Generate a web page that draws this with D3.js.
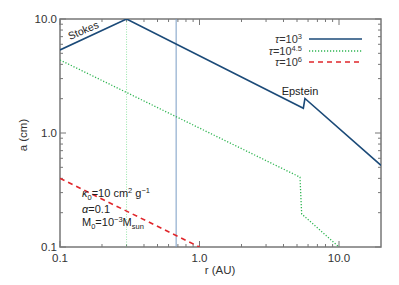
<!DOCTYPE html>
<html><head><meta charset="utf-8">
<script src="https://cdn.jsdelivr.net/npm/d3@7"></script>
<style>body{margin:0;background:#fff}text{font-family:"Liberation Sans",Arial,sans-serif}</style>
</head><body>
<svg id="c" width="399" height="285"></svg>
<script>
const rBlue = [0.1, 0.3, 5.55, 5.7, 20];
const aBlue = [5.35, 10, 1.65, 2.01, 0.52];
const rGreen = [0.1, 5.25, 5.4, 10];
const aGreen = [4.37, 0.41, 0.195, 0.1];
const rRed = [0.1, 1.0];
const aRed = [0.40, 0.1];
const vLines = [0.3, 0.68];
const xTickVals = [0.1, 1, 10];
const xTickLabels = ["0.1", "1.0", "10.0"];
const yTickVals = [0.1, 1, 10];
const yTickLabels = ["0.1", "1.0", "10.0"];

const svg = d3.select("#c");
const L = 60, R = 381, T = 19, B = 247;
const x = d3.scaleLog().domain([0.1, 20]).range([L, R]);
const y = d3.scaleLog().domain([0.1, 10]).range([B, T]);

const minorX = [], minorY = [];
[0.1, 1, 10].forEach(d => { for (let k = 2; k <= 9; k++) { const v = d * k; if (v < 20) minorX.push(v); if (v < 10) minorY.push(v); } });

const axCol = "#777", txtCol = "#333";
const g = svg.append("g");
g.append("rect").attr("x", L).attr("y", T).attr("width", R - L).attr("height", B - T)
  .attr("fill", "none").attr("stroke", axCol).attr("stroke-width", 1.5);

function xt(vals, len) {
  vals.forEach(v => {
    g.append("line").attr("x1", x(v)).attr("x2", x(v)).attr("y1", B).attr("y2", B - len).attr("stroke", axCol);
    g.append("line").attr("x1", x(v)).attr("x2", x(v)).attr("y1", T).attr("y2", T + len).attr("stroke", axCol);
  });
}
function yt(vals, len) {
  vals.forEach(v => {
    g.append("line").attr("y1", y(v)).attr("y2", y(v)).attr("x1", L).attr("x2", L + len).attr("stroke", axCol);
    g.append("line").attr("y1", y(v)).attr("y2", y(v)).attr("x1", R).attr("x2", R - len).attr("stroke", axCol);
  });
}
xt(xTickVals, 6); xt(minorX, 3);
yt(yTickVals, 6); yt(minorY, 3);

xTickVals.forEach((v, i) => g.append("text").attr("x", x(v)).attr("y", 262).attr("text-anchor", "middle")
  .attr("font-size", 11.5).attr("fill", txtCol).text(xTickLabels[i]));
yTickVals.forEach((v, i) => g.append("text").attr("x", 57).attr("y", y(v) + 4).attr("text-anchor", "end")
  .attr("font-size", 11.5).attr("fill", txtCol).text(yTickLabels[i]));

g.append("text").attr("x", 220).attr("y", 274).attr("text-anchor", "middle").attr("font-size", 11.5)
  .attr("fill", txtCol).text("r  (AU)");
g.append("text").attr("transform", "translate(27,135) rotate(-90)").attr("text-anchor", "middle")
  .attr("font-size", 11.5).attr("fill", txtCol).text("a  (cm)");

svg.append("clipPath").attr("id", "clip").append("rect").attr("x", L).attr("y", T).attr("width", R - L).attr("height", B - T);
const pg = svg.append("g").attr("clip-path", "url(#clip)");

pg.append("line").attr("x1", x(vLines[0])).attr("x2", x(vLines[0])).attr("y1", T).attr("y2", B)
  .attr("stroke", "#7ee094").attr("stroke-width", 0.8).attr("stroke-dasharray", "1,1.5");
pg.append("line").attr("x1", x(vLines[1])).attr("x2", x(vLines[1])).attr("y1", T).attr("y2", B)
  .attr("stroke", "#7a9cc4").attr("stroke-width", 1);

const line = d3.line().x(d => x(d[0])).y(d => y(d[1]));
pg.append("path").datum(d3.zip(rBlue, aBlue)).attr("d", line).attr("fill", "none")
  .attr("stroke", "#1b4a78").attr("stroke-width", 1.6);
pg.append("path").datum(d3.zip(rGreen, aGreen)).attr("d", line).attr("fill", "none")
  .attr("stroke", "#2fb552").attr("stroke-width", 1.3).attr("stroke-dasharray", "1.2,1.8");
pg.append("path").datum(d3.zip(rRed, aRed)).attr("d", line).attr("fill", "none")
  .attr("stroke", "#e0262b").attr("stroke-width", 1.6).attr("stroke-dasharray", "5,4");

const leg = [
  {sup: "3", col: "#1b4a78", dash: null, w: 1.6, y: 39},
  {sup: "4.5", col: "#2fb552", dash: "1.2,1.8", w: 1.3, y: 51},
  {sup: "6", col: "#e0262b", dash: "5,4", w: 1.6, y: 62}
];
leg.forEach(l => {
  const t = svg.append("text").attr("x", 302).attr("y", l.y + 4).attr("text-anchor", "end")
    .attr("font-size", 11).attr("fill", txtCol);
  t.append("tspan").attr("font-style", "italic").text("τ");
  t.append("tspan").text("=10");
  t.append("tspan").attr("dy", -4).attr("font-size", 7.5).text(l.sup);
  const ln = svg.append("line").attr("x1", 309).attr("x2", 362).attr("y1", l.y).attr("y2", l.y)
    .attr("stroke", l.col).attr("stroke-width", l.w);
  if (l.dash) ln.attr("stroke-dasharray", l.dash);
});

svg.append("text").attr("transform", "translate(70,40) rotate(-23)").attr("font-size", 10.5)
  .attr("fill", "#222").text("Stokes");
svg.append("text").attr("x", 300).attr("y", 95).attr("text-anchor", "middle").attr("font-size", 11)
  .attr("fill", "#222").text("Epstein");

const t1 = svg.append("text").attr("x", 82).attr("y", 197).attr("font-size", 11).attr("fill", "#222");
t1.append("tspan").attr("font-style", "italic").text("κ");
t1.append("tspan").attr("dy", 3).attr("font-size", 7.5).text("0");
t1.append("tspan").attr("dy", -3).text("=10  cm");
t1.append("tspan").attr("dy", -4).attr("font-size", 7.5).text("2");
t1.append("tspan").attr("dy", 4).text("  g");
t1.append("tspan").attr("dy", -4).attr("font-size", 7.5).text("−1");
const t2 = svg.append("text").attr("x", 82).attr("y", 213).attr("font-size", 11).attr("fill", "#222");
t2.append("tspan").attr("font-style", "italic").text("α");
t2.append("tspan").text("=0.1");
const t3 = svg.append("text").attr("x", 82).attr("y", 226).attr("font-size", 11).attr("fill", "#222");
t3.append("tspan").text("M");
t3.append("tspan").attr("dy", 3).attr("font-size", 7.5).text("0");
t3.append("tspan").attr("dy", -3).text("=10");
t3.append("tspan").attr("dy", -4).attr("font-size", 7.5).text("−3");
t3.append("tspan").attr("dy", 4).text("M");
t3.append("tspan").attr("dy", 3).attr("font-size", 7.5).text("sun");
</script>
</body></html>
